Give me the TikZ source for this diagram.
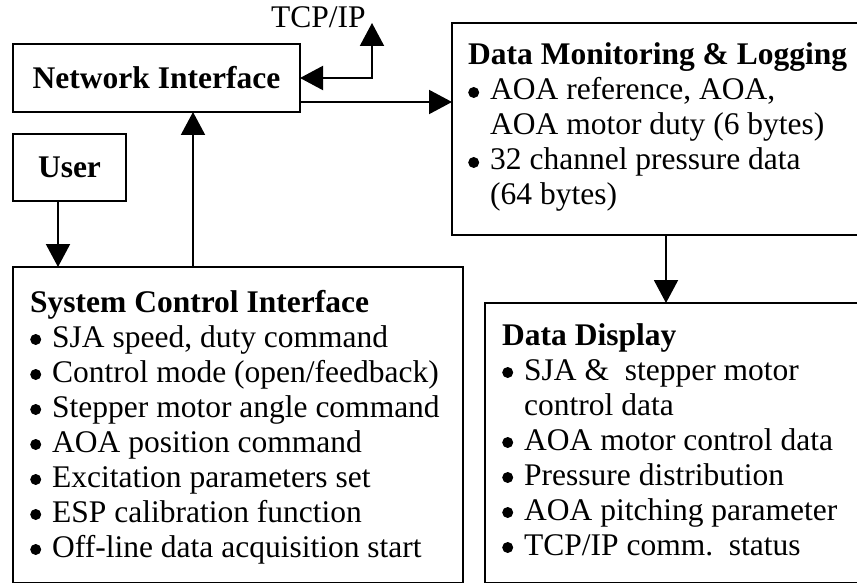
\documentclass[tikz,border=0pt]{standalone}
\usepackage{fontspec}
\setmainfont{Liberation Serif}
\usetikzlibrary{arrows.meta}
\newsavebox\bulbox
\sbox\bulbox{\tikz[baseline=0pt,x=1pt,y=1pt]{\useasboundingbox (0,0) rectangle (22,1);\fill[black] (5.5,7.5) circle[radius=5.5];}}
\newcommand\bul{\usebox\bulbox}
\newcommand\ind{\hspace*{22pt}}
\begin{document}
\begin{tikzpicture}[x=1pt,y=-1pt,
  box/.style={draw,line width=2.3pt,rectangle,inner sep=0pt,outer sep=0pt,anchor=north west},
  conn/.style={line width=2pt,-{Triangle[length=23pt,width=24pt]}},
  dconn/.style={line width=2pt,{Triangle[length=23pt,width=24pt]}-{Triangle[length=23pt,width=24pt]}},
  lbl/.style={inner sep=0pt,anchor=base west,font=\fontsize{31.5}{35}\selectfont},
  ttl/.style={inner sep=0pt,font=\fontsize{31.5}{35}\selectfont\bfseries},
  ]
\useasboundingbox (0,0) rectangle (857,583);
\clip (0,0) rectangle (857,583);
% boxes
\node[box,minimum width=287,minimum height=68] (ni) at (13,44) {};
\node[box,minimum width=113,minimum height=67] (user) at (13,134) {};
\node[box,minimum width=428,minimum height=212] (dm) at (452,23) {};
\node[box,minimum width=450,minimum height=316] (sci) at (13,267) {};
\node[box,minimum width=395,minimum height=280] (dd) at (485,303) {};
% box texts
\node[ttl] (nitext) at (ni.center) {Network Interface};
\node[ttl] (usertext) at (user.center) {User};
\node[lbl] (tcplbl) at (271,28) {TCP/IP};
\node[lbl] (dmtext) at (468,65) {\begin{tabular}[t]{@{}l@{}}\textbf{Data Monitoring \& Logging}\\
\bul AOA reference, AOA,\\
\ind AOA motor duty (6 bytes)\\
\bul 32 channel pressure data\\
\ind (64 bytes)\end{tabular}};
\node[lbl] (scitext) at (30,312) {\begin{tabular}[t]{@{}l@{}}\textbf{System Control Interface}\\
\bul SJA speed, duty command\\
\bul Control mode (open/feedback)\\
\bul Stepper motor angle command\\
\bul AOA position command\\
\bul Excitation parameters set\\
\bul ESP calibration function\\
\bul Off-line data acquisition start\end{tabular}};
\node[lbl] (ddtext) at (502,345) {\begin{tabular}[t]{@{}l@{}}\textbf{Data Display}\\
\bul SJA \& \ stepper motor\\
\ind control data\\
\bul AOA motor control data\\
\bul Pressure distribution\\
\bul AOA pitching parameter\\
\bul TCP/IP comm.\ \ status\end{tabular}};
% connectors
\coordinate (tcp) at (372,23);
\draw[dconn] (ni.east) -| (tcp);
\draw[conn] (ni.east |- 0,102) -- (dm.west |- 0,102);
\draw[conn] (dm.south -| 666,0) -- (dd.north -| 666,0);
\draw[conn] (user.south -| 58,0) -- (sci.north -| 58,0);
\draw[conn] (sci.north -| 193,0) -- (ni.south -| 193,0);
\end{tikzpicture}
\end{document}
